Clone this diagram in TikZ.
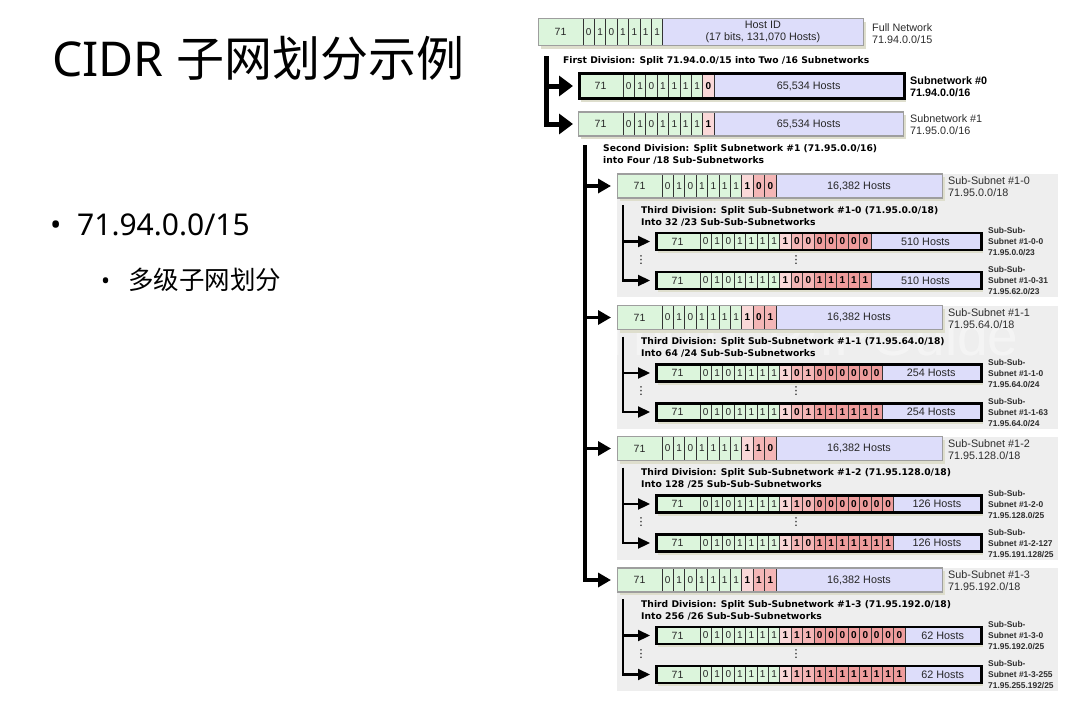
\documentclass[tikz,border=0pt]{standalone}
\usepackage{fontspec}
\setmainfont{Liberation Sans}
\newfontfamily\cjkfont{Noto Sans CJK SC}
\newfontfamily\latinfont{Noto Sans}
\newfontfamily\symfont{DejaVu Sans}
\usetikzlibrary{arrows.meta}

\definecolor{netgreen}{RGB}{220,245,220}
\definecolor{hostblue}{RGB}{221,221,250}
\definecolor{bitA}{RGB}{250,216,216}
\definecolor{bitB}{RGB}{244,182,182}
\definecolor{bitC}{RGB}{238,156,156}
\definecolor{panelgray}{RGB}{238,238,238}
\definecolor{shadowtan}{RGB}{222,222,205}
\definecolor{labelgray}{RGB}{45,45,45}

\def\rw{325}   % width of an address bar
\def\bw{11.4}  % width of one bit cell
\def\base{0/0,1/0,0/0,1/0,1/0,1/0,1/0}

\tikzset{
  cell0/.style={fill=netgreen}, cell1/.style={fill=bitA},
  cell2/.style={fill=bitB}, cell3/.style={fill=bitC},
  bit0/.style={inner sep=0, text=black!85, font=\fontsize{10}{11}\selectfont},
  bit1/.style={inner sep=0, text=black, font=\bfseries\fontsize{10}{11}\selectfont},
  bit2/.style={bit1}, bit3/.style={bit1},
  rowtext/.style={inner sep=0, text=black!85, font=\fontsize{10.5}{11}\selectfont},
  hosttext/.style={inner sep=0, align=center, text=black!85, font=\fontsize{10.8}{12}\selectfont},
  divider/.style={draw=black!80, line width=0.7pt},
  thinframe/.style={draw=black!38, line width=1.3pt, inner sep=0pt},
  thickframe/.style={draw=black, line width=2.7pt, inner sep=0pt},
  lbl/.style={anchor=west, align=left, inner sep=0, text=labelgray, font=\fontsize{10.8}{12}\selectfont},
  lblbold/.style={lbl, text=black, font=\bfseries\fontsize{10.8}{12}\selectfont},
  smalllbl/.style={anchor=west, align=left, inner sep=0, text=labelgray, font=\bfseries\fontsize{8.4}{11}\selectfont},
  divtxt/.style={anchor=west, align=left, inner sep=0, font=\symfont\bfseries\fontsize{9.2}{12}\selectfont},
  vdots/.style={inner sep=0, font=\symfont\fontsize{11}{12}\selectfont},
  trunkA/.style={line width=5pt, line join=miter, -{Triangle[length=14pt,width=20pt]}, shorten >=5pt},
  trunkB/.style={line width=3.6pt, line join=miter, -{Triangle[length=13pt,width=14pt]}, shorten >=6pt},
  trunkC/.style={line width=2.2pt, line join=miter, -{Triangle[length=12pt,width=11pt]}, shorten >=5pt},
}

% #1 name, #2 left x, #3 centre y, #4 height, #5 frame style,
% #6 number of bit cells, #7 bits as value/level, #8 host part text
\newcommand{\addrrow}[8]{%
  \pgfmathsetmacro\rtop{#3-#4/2}%
  \pgfmathsetmacro\rbot{#3+#4/2}%
  \pgfmathsetmacro\rhost{#2+45+#6*\bw}%
  \edef\rowbits{#7}%
  \fill[shadowtan] (#2+3,\rtop+3) rectangle (#2+\rw+3,\rbot+3);
  \fill[hostblue] (#2,\rtop) rectangle (#2+\rw,\rbot);
  \fill[netgreen] (#2,\rtop) rectangle (#2+45,\rbot);
  \node[rowtext] at (#2+22.5,#3) {71};
  \foreach \bv/\bl [count=\ci from 0] in \rowbits {
    \pgfmathsetmacro\cx{#2+45+\ci*\bw}
    \fill[cell\bl] (\cx,\rtop) rectangle (\cx+\bw,\rbot);
    \node[bit\bl] at (\cx+\bw/2,#3) {\bv};
  }
  \foreach \ci in {0,...,#6}
    \draw[divider] (#2+45+\ci*\bw,\rtop) -- (#2+45+\ci*\bw,\rbot);
  \node[hosttext] at ({(\rhost+#2+\rw)/2},#3) {#8};
  \node[#5, minimum width=\rw, minimum height=#4, anchor=west] (#1) at (#2,#3) {};
}

\begin{document}
\begin{tikzpicture}[x=1pt,y=-1pt]
\fill[white] (0,0) rectangle (1089,704);
\useasboundingbox (0,0) rectangle (1089,704);

% ---- slide text ----
\node[anchor=base west, inner sep=0] (title) at (52,76)
  {\latinfont\fontsize{48}{52}\selectfont CIDR \cjkfont 子网划分示例};
\node[anchor=base west, inner sep=0] (dot1) at (50,235)
  {\latinfont\fontsize{30}{34}\selectfont •};
\node[anchor=base west, inner sep=0] (item1) at (77,235)
  {\latinfont\fontsize{30}{34}\selectfont 71.94.0.0/15};
\node[anchor=base west, inner sep=0] (dot2) at (101,289)
  {\latinfont\fontsize{24}{28}\selectfont •};
\node[anchor=base west, inner sep=0] (item2) at (128,289)
  {\cjkfont\fontsize{25.5}{30}\selectfont 多级子网划分};

% ---- grey panels behind each /18 block ----
\foreach \gy in {186,317.5,448.5,580}
  \fill[panelgray] (617,\gy-12) rectangle (1058,\gy+111);

\node[font=\fontsize{55}{60}\selectfont, text=white, opacity=0.4, inner sep=0] (mark) at (809,336) {TheTCP/IPGuide};

% ---- full network and first division ----
\addrrow{r0}{538}{32}{27}{thinframe}{7}{\base}{Host ID\\(17 bits, 131,070 Hosts)}
\node[lbl] (l0) at (872,34) {Full Network\\71.94.0.0/15};
\node[divtxt] (div1) at (563,61) {First Division: Split 71.94.0.0/15 into Two /16 Subnetworks};

\addrrow{r1}{578}{86}{25}{thickframe}{8}{\base,0/1}{65,534 Hosts}
\node[lblbold] (l1) at (910,87) {Subnetwork \#0\\71.94.0.0/16};
\addrrow{r2}{578}{124}{24}{thinframe}{8}{\base,1/1}{65,534 Hosts}
\node[lbl] (l2) at (910,125) {Subnetwork \#1\\71.95.0.0/16};

\coordinate (t1) at (546,56);
\draw[trunkA] (t1) |- (r2.west);
\draw[trunkA] (t1 |- r1.west) -- (r1.west);

% ---- second division ----
\node[divtxt] (div2) at (603,154) {Second Division: Split Subnetwork \#1 (71.95.0.0/16)\\into Four /18 Sub-Subnetworks};

% block #1-0
\addrrow{ga}{617}{186}{24}{thinframe}{10}{\base,1/1,0/2,0/2}{16,382 Hosts}
\node[lbl] (lga) at (948,187) {Sub-Subnet \#1-0\\71.95.0.0/18};
\node[divtxt] (diva) at (641,216) {Third Division: Split Sub-Subnetwork \#1-0 (71.95.0.0/18)\\Into 32 /23 Sub-Sub-Subnetworks};
\addrrow{a0}{655}{241.5}{17}{thickframe}{15}{\base,1/1,0/2,0/2,0/3,0/3,0/3,0/3,0/3}{510 Hosts}
\addrrow{a1}{655}{280.5}{17}{thickframe}{15}{\base,1/1,0/2,0/2,1/3,1/3,1/3,1/3,1/3}{510 Hosts}
\node[smalllbl] (la0) at (988,242) {Sub-Sub-\\Subnet \#1-0-0\\71.95.0.0/23};
\node[smalllbl] (la1) at (988,281) {Sub-Sub-\\Subnet \#1-0-31\\71.95.62.0/23};
\node[vdots] (dA1) at (641,260) {⋮};
\node[vdots] (dA2) at (796,260) {⋮};
\coordinate (tA) at (623,205);
\draw[trunkC] (tA) |- (a1.west);
\draw[trunkC] (tA |- a0.west) -- (a0.west);

% block #1-1
\addrrow{gb}{617}{317.5}{24}{thinframe}{10}{\base,1/1,0/2,1/2}{16,382 Hosts}
\node[lbl] (lgb) at (948,318.5) {Sub-Subnet \#1-1\\71.95.64.0/18};
\node[divtxt] (divb) at (641,347.5) {Third Division: Split Sub-Subnetwork \#1-1 (71.95.64.0/18)\\Into 64 /24 Sub-Sub-Subnetworks};
\addrrow{b0}{655}{373}{17}{thickframe}{16}{\base,1/1,0/2,1/2,0/3,0/3,0/3,0/3,0/3,0/3}{254 Hosts}
\addrrow{b1}{655}{412}{17}{thickframe}{16}{\base,1/1,0/2,1/2,1/3,1/3,1/3,1/3,1/3,1/3}{254 Hosts}
\node[smalllbl] (lb0) at (988,373.5) {Sub-Sub-\\Subnet \#1-1-0\\71.95.64.0/24};
\node[smalllbl] (lb1) at (988,412.5) {Sub-Sub-\\Subnet \#1-1-63\\71.95.64.0/24};
\node[vdots] (dB1) at (641,391.5) {⋮};
\node[vdots] (dB2) at (796,391.5) {⋮};
\coordinate (tB) at (623,336.5);
\draw[trunkC] (tB) |- (b1.west);
\draw[trunkC] (tB |- b0.west) -- (b0.west);

% block #1-2
\addrrow{gc}{617}{448.5}{24}{thinframe}{10}{\base,1/1,1/2,0/2}{16,382 Hosts}
\node[lbl] (lgc) at (948,449.5) {Sub-Subnet \#1-2\\71.95.128.0/18};
\node[divtxt] (divc) at (641,478.5) {Third Division: Split Sub-Subnetwork \#1-2 (71.95.128.0/18)\\Into 128 /25 Sub-Sub-Subnetworks};
\addrrow{c0}{655}{504}{17}{thickframe}{17}{\base,1/1,1/2,0/2,0/3,0/3,0/3,0/3,0/3,0/3,0/3}{126 Hosts}
\addrrow{c1}{655}{543}{17}{thickframe}{17}{\base,1/1,1/2,0/2,1/3,1/3,1/3,1/3,1/3,1/3,1/3}{126 Hosts}
\node[smalllbl] (lc0) at (988,504.5) {Sub-Sub-\\Subnet \#1-2-0\\71.95.128.0/25};
\node[smalllbl] (lc1) at (988,543.5) {Sub-Sub-\\Subnet \#1-2-127\\71.95.191.128/25};
\node[vdots] (dC1) at (641,522.5) {⋮};
\node[vdots] (dC2) at (796,522.5) {⋮};
\coordinate (tC) at (623,467.5);
\draw[trunkC] (tC) |- (c1.west);
\draw[trunkC] (tC |- c0.west) -- (c0.west);

% block #1-3
\addrrow{gd}{617}{580}{24}{thinframe}{10}{\base,1/1,1/2,1/2}{16,382 Hosts}
\node[lbl] (lgd) at (948,581) {Sub-Subnet \#1-3\\71.95.192.0/18};
\node[divtxt] (divd) at (641,610) {Third Division: Split Sub-Subnetwork \#1-3 (71.95.192.0/18)\\Into 256 /26 Sub-Sub-Subnetworks};
\addrrow{d0}{655}{635.5}{17}{thickframe}{18}{\base,1/1,1/2,1/2,0/3,0/3,0/3,0/3,0/3,0/3,0/3,0/3}{62 Hosts}
\addrrow{d1}{655}{674.5}{17}{thickframe}{18}{\base,1/1,1/2,1/2,1/3,1/3,1/3,1/3,1/3,1/3,1/3,1/3}{62 Hosts}
\node[smalllbl] (ld0) at (988,636) {Sub-Sub-\\Subnet \#1-3-0\\71.95.192.0/25};
\node[smalllbl] (ld1) at (988,675) {Sub-Sub-\\Subnet \#1-3-255\\71.95.255.192/25};
\node[vdots] (dD1) at (641,654) {⋮};
\node[vdots] (dD2) at (796,654) {⋮};
\coordinate (tD) at (623,599);
\draw[trunkC] (tD) |- (d1.west);
\draw[trunkC] (tD |- d0.west) -- (d0.west);

% second-level trunk
\coordinate (t2) at (585,145);
\draw[trunkB] (t2) |- (gd.west);
\foreach \g in {ga,gb,gc}
  \draw[trunkB] (t2 |- \g.west) -- (\g.west);

\end{tikzpicture}
\end{document}
